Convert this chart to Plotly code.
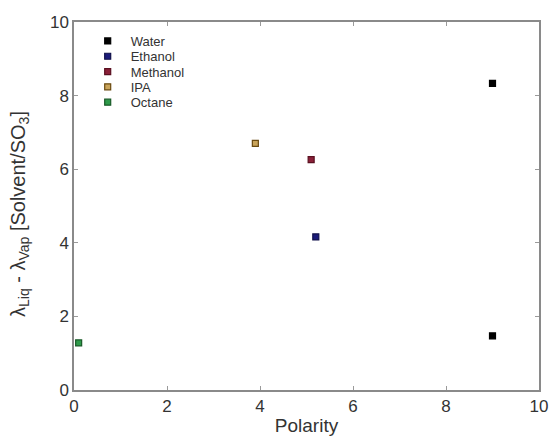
import plotly.graph_objects as go

solvents = ["Water", "Ethanol", "Methanol", "IPA", "Octane"]
polarity = [[9.0, 9.0], [5.2], [5.1], [3.9], [0.1]]
lam_diff = [[8.33, 1.47], [4.16], [6.26], [6.70], [1.28]]
fill_colors = ["#000000", "#1b1b7a", "#8a2038", "#c9a45a", "#2e9a4a"]
edge_colors = ["#000000", "#10104a", "#5a1020", "#6a4a10", "#1a5a28"]

x_ticks = [0, 2, 4, 6, 8, 10]
y_ticks = [0, 2, 4, 6, 8, 10]
y_title = "λ<sub>Liq</sub> - λ<sub>Vap</sub> [Solvent/SO<sub>3</sub>]"

FONT = "Liberation Sans, Arial, sans-serif"
fig = go.Figure()
legend_layout = {}
top_px, plot_h, left_px, plot_w = 22, 368, 74, 465
for i, (name, xs, ys, fc, ec) in enumerate(zip(solvents, polarity, lam_diff, fill_colors, edge_colors)):
    key = "legend" if i == 0 else f"legend{i + 1}"
    fig.add_trace(go.Scatter(
        x=xs, y=ys, mode="markers", name=name, legend=key,
        marker=dict(symbol="square", size=6, color=fc, line=dict(color=ec, width=1.2)),
    ))
    center_px = 41 + i * 15.3
    legend_layout[key] = dict(
        x=0.023, y=1 - (center_px - top_px) / plot_h, xanchor="left", yanchor="middle",
        bgcolor="rgba(0,0,0,0)", font=dict(size=13, color="#333333", family=FONT),
        itemwidth=36,
    )

axis_common = dict(
    showline=True, linecolor="#8a8a8a", linewidth=1.5, mirror="ticks",
    ticks="inside", ticklen=4, tickcolor="#9a9a9a", tickwidth=1,
    showgrid=False, zeroline=False, automargin=False,
    tickfont=dict(family=FONT, size=17, color="#333333"),
)

fig.update_layout(
    width=550, height=436,
    margin=dict(l=left_px, r=11, t=top_px, b=46),
    paper_bgcolor="white", plot_bgcolor="white",
    font=dict(family=FONT, color="#333333"),
    xaxis=dict(range=[0, 10], tickvals=x_ticks, ticktext=[str(v) for v in x_ticks],
               title=dict(text="Polarity", font=dict(size=19), standoff=6), **axis_common),
    yaxis=dict(range=[0, 10], tickvals=y_ticks, ticktext=[str(v) for v in y_ticks],
               **axis_common),
    annotations=[dict(
        text=y_title, textangle=-90, xref="paper", yref="paper",
        x=(19 - left_px) / plot_w, y=1 - (214 - top_px) / plot_h,
        xanchor="center", yanchor="middle", showarrow=False,
        font=dict(size=20, color="#333333", family=FONT),
    )],
    showlegend=True,
    **legend_layout,
)

fig.write_html("out.html")
